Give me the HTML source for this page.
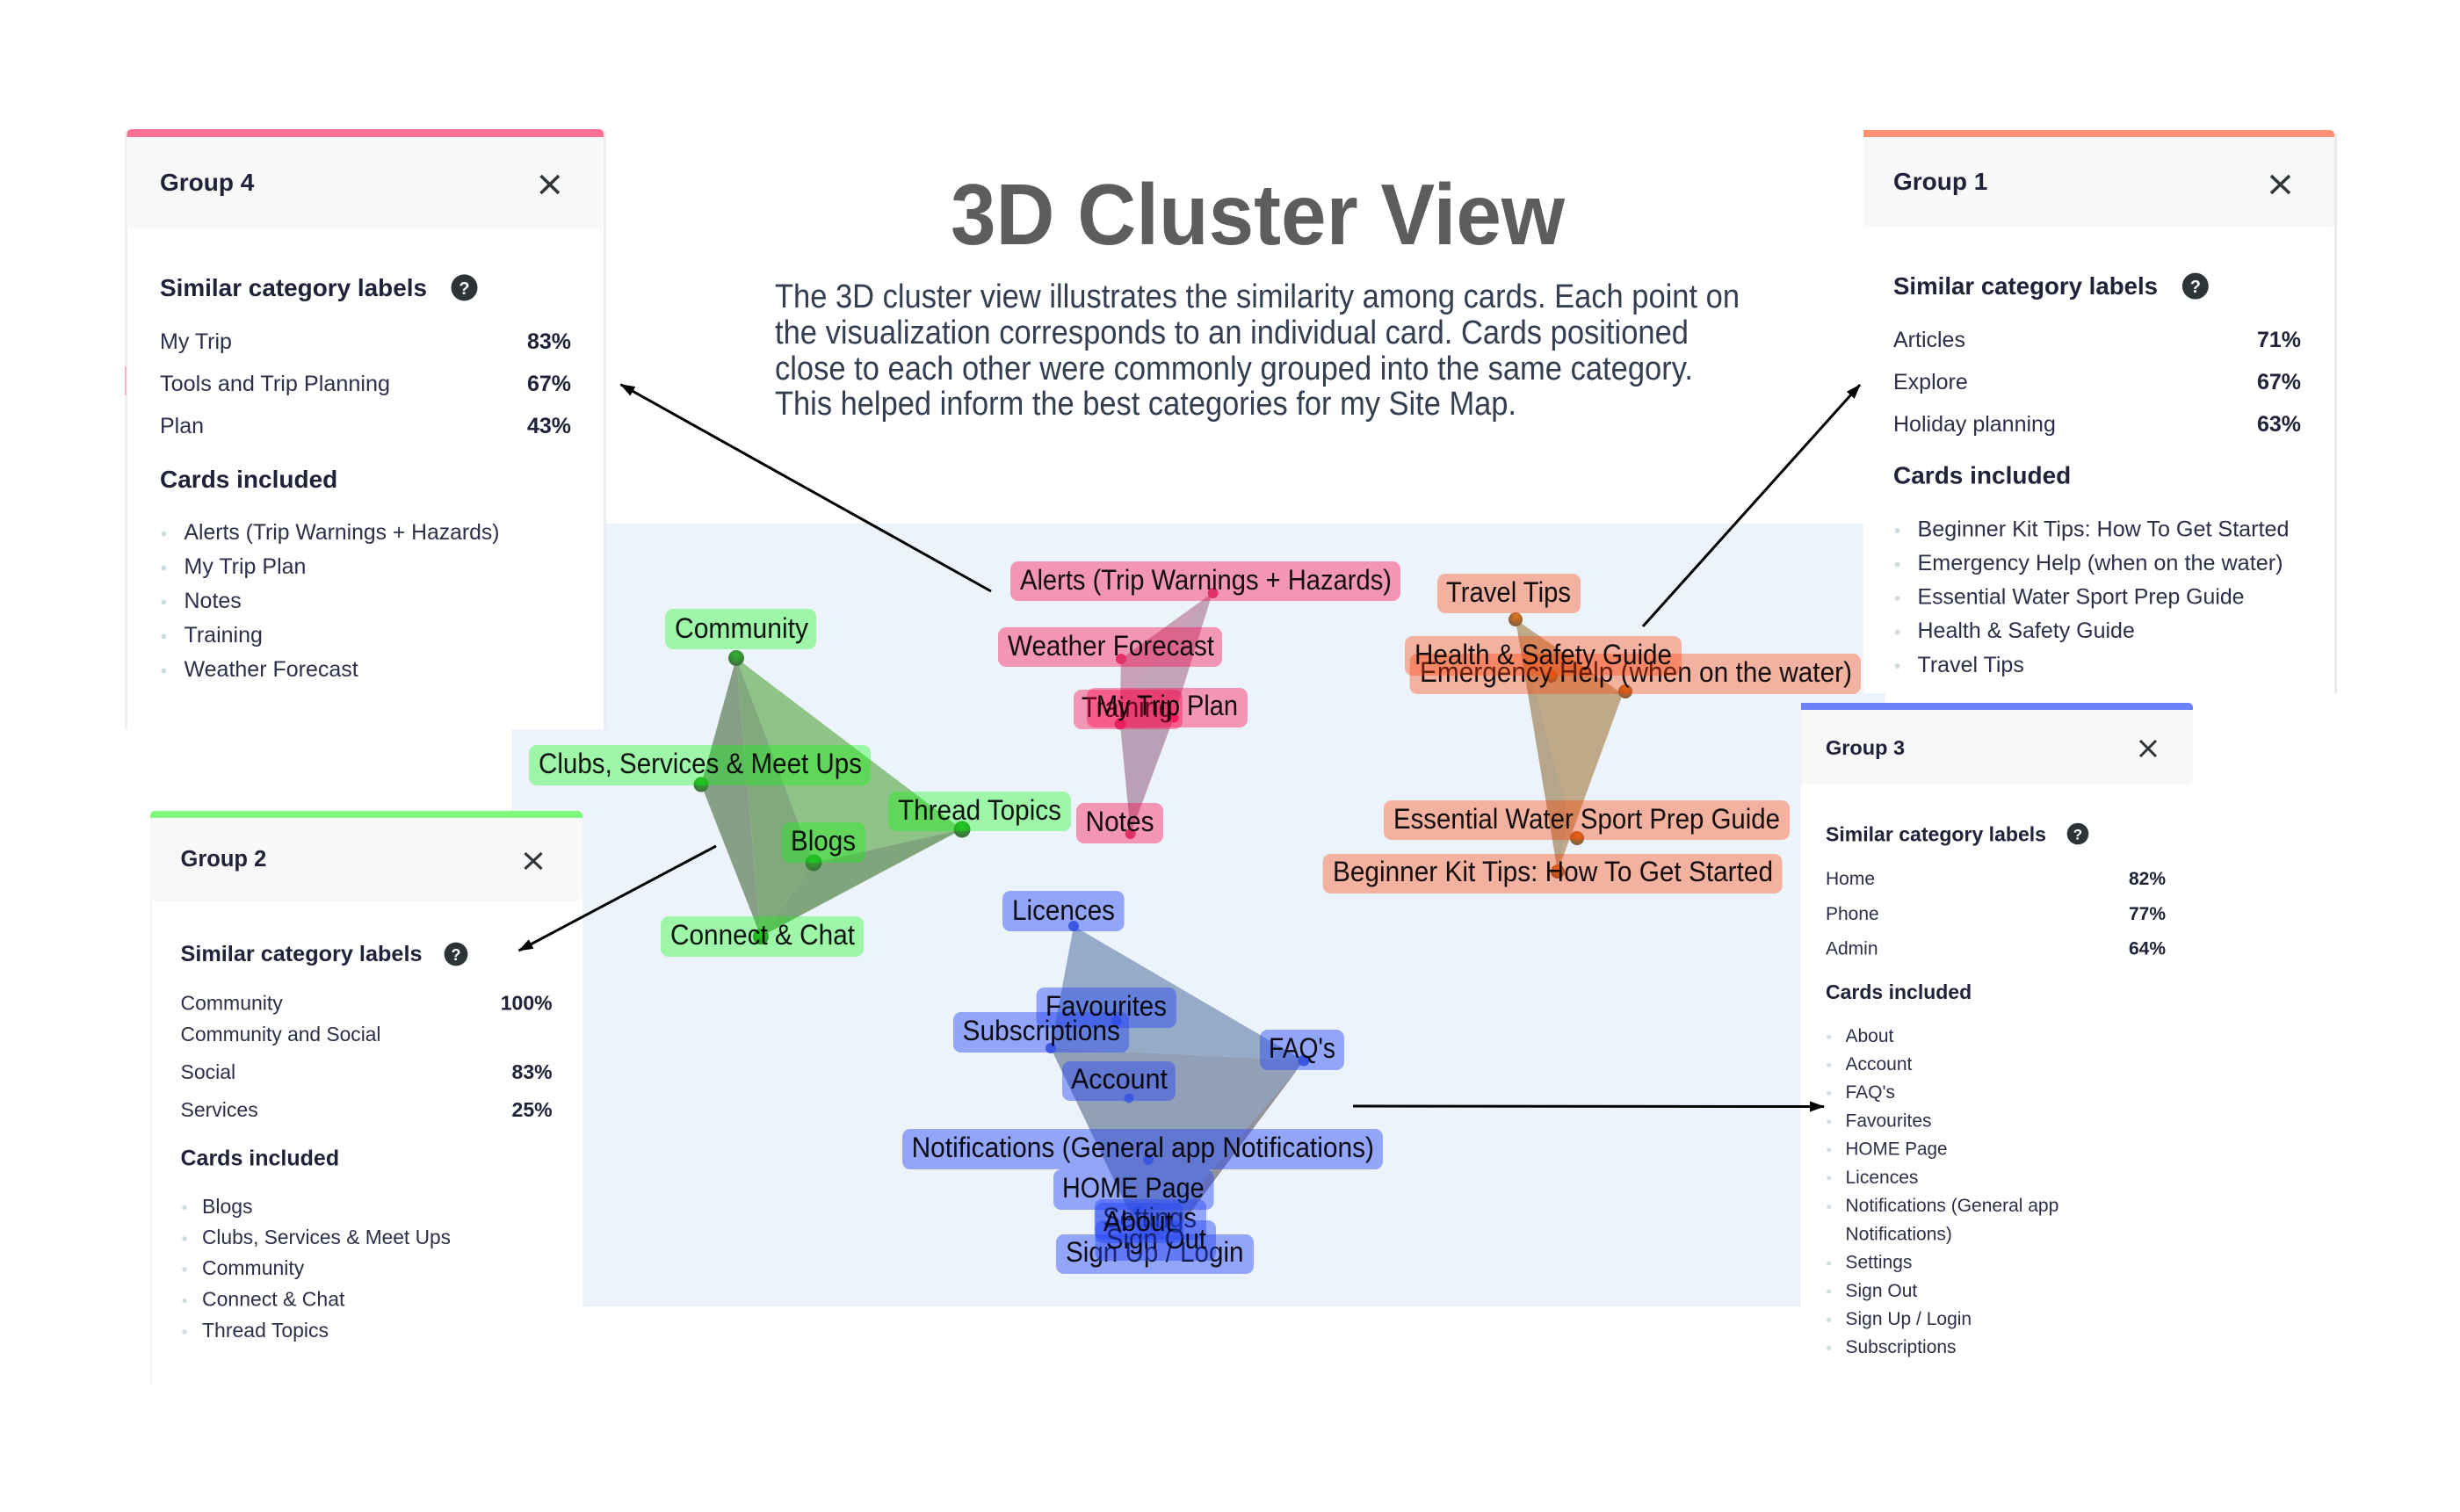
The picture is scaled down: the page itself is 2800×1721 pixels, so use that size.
<!DOCTYPE html>
<html><head><meta charset="utf-8"><title>3D Cluster View</title>
<style>
html,body{margin:0;padding:0;background:#fff}
svg{display:block}
text{font-family:"Liberation Sans",sans-serif}
.b{font-weight:700;fill:#20223a}
.r{fill:#2c2f48}
.l{font-size:32px;fill:#000;fill-opacity:.92;transform:translateY(1px)}
</style></head><body>
<svg xmlns="http://www.w3.org/2000/svg" width="2800" height="1721" viewBox="0 0 2800 1721">
<defs>
<radialGradient id="gg" cx=".5" cy=".3" r=".75"><stop offset="0" stop-color="#2fb52f"/><stop offset="1" stop-color="#3d6a3d"/></radialGradient>
<radialGradient id="og" cx=".55" cy=".3" r=".75"><stop offset="0" stop-color="#e0761c"/><stop offset="1" stop-color="#7a5a40"/></radialGradient>
<marker id="a" markerWidth="18" markerHeight="14" refX="16" refY="6" orient="auto" markerUnits="userSpaceOnUse"><path d="M0 0L17 6L0 12Z" fill="#000"/></marker>
</defs>
<rect width="2800" height="1721" fill="#fff"/>
<polygon points="688,596 2121,596 2121,789 2146,789 2146,800 2050,800 2050,1487 663,1487 663,923 582,923 582,830 688,830" fill="#ecf3fb"/>

<!-- Title -->
<text x="1082" y="278" font-size="98" font-weight="700" fill="#5d5d5d" textLength="699" lengthAdjust="spacingAndGlyphs">3D Cluster View</text>
<g font-size="38" fill="#333e50">
<text x="882" y="350" textLength="1098" lengthAdjust="spacingAndGlyphs">The 3D cluster view illustrates the similarity among cards. Each point on</text>
<text x="882" y="391" textLength="1040" lengthAdjust="spacingAndGlyphs">the visualization corresponds to an individual card. Cards positioned</text>
<text x="882" y="432" textLength="1045" lengthAdjust="spacingAndGlyphs">close to each other were commonly grouped into the same category.</text>
<text x="882" y="472" textLength="844" lengthAdjust="spacingAndGlyphs">This helped inform the best categories for my Site Map.</text>
</g>

<!-- Green cluster -->
<polygon points="838,749 798,893 866,1066" fill="#879f87"/>
<polygon points="838,749 926,982 866,1066" fill="#80a97c"/>
<polygon points="838,749 1095,944 926,982" fill="#90c388"/>
<polygon points="926,982 1095,944 866,1066" fill="#80a57c"/>
<g fill="url(#gg)">
<circle cx="838" cy="749" r="9"/><circle cx="798" cy="893" r="8.5"/><circle cx="926" cy="982" r="9.5"/><circle cx="1095" cy="944" r="9.5"/><circle cx="866" cy="1066" r="9"/>
</g>
<g>
<g fill="#00ff00" fill-opacity=".33">
<rect x="757" y="693" width="172" height="46" rx="9"/>
<rect x="602" y="848" width="389" height="46" rx="9"/>
<rect x="1011" y="901" width="208" height="45" rx="9"/>
<rect x="890" y="936" width="95" height="46" rx="9"/>
<rect x="752" y="1043" width="231" height="46" rx="9"/>
</g>
<text class="l" x="768" y="725" textLength="152" lengthAdjust="spacingAndGlyphs">Community</text>
<text class="l" x="613" y="879" textLength="368" lengthAdjust="spacingAndGlyphs">Clubs, Services &amp; Meet Ups</text>
<text class="l" x="1022" y="932" textLength="186" lengthAdjust="spacingAndGlyphs">Thread Topics</text>
<text class="l" x="900" y="967" textLength="74" lengthAdjust="spacingAndGlyphs">Blogs</text>
<text class="l" x="763" y="1074" textLength="210" lengthAdjust="spacingAndGlyphs">Connect &amp; Chat</text>
</g>

<!-- Pink cluster -->
<polygon points="1380,675 1276,750 1275,824 1287,949 1336,817" fill="#c2a3ba"/>
<polygon points="1380,675 1276,750 1275,800" fill="#c9a0b8"/>
<polygon points="1275,824 1287,949 1330,830" fill="#baa0b6"/>
<g fill="#cf4f7f">
<circle cx="1380.7" cy="675" r="6"/><circle cx="1276" cy="750" r="6"/><circle cx="1275" cy="824" r="6.5"/><circle cx="1336" cy="817" r="5.5"/><circle cx="1286.7" cy="949" r="6"/>
</g>
<rect x="1150" y="639" width="444" height="45" rx="9" fill="#ff0046" fill-opacity=".38"/>
<text class="l" x="1161" y="670" textLength="423" lengthAdjust="spacingAndGlyphs">Alerts (Trip Warnings + Hazards)</text>
<rect x="1136" y="714" width="255" height="45" rx="9" fill="#ff0046" fill-opacity=".38"/>
<text class="l" x="1147" y="745" textLength="235" lengthAdjust="spacingAndGlyphs">Weather Forecast</text>
<rect x="1222" y="785" width="124" height="45" rx="9" fill="#ff0046" fill-opacity=".38"/>
<text class="l" x="1231" y="815" textLength="104" lengthAdjust="spacingAndGlyphs">Training</text>
<rect x="1237" y="783" width="183" height="45" rx="9" fill="#ff0046" fill-opacity=".38"/>
<text class="l" x="1248" y="813" textLength="161" lengthAdjust="spacingAndGlyphs">My Trip Plan</text>
<rect x="1225" y="914" width="99" height="46" rx="9" fill="#ff0046" fill-opacity=".38"/>
<text class="l" x="1235.5" y="945" textLength="78" lengthAdjust="spacingAndGlyphs">Notes</text>

<!-- Orange cluster -->
<polygon points="1725,705 1847,790 1773,992" fill="#c0a988"/>
<polygon points="1725,705 1785,930 1773,992" fill="#b5a58a"/>
<g fill="url(#og)">
<circle cx="1725" cy="705" r="8"/><circle cx="1766" cy="770" r="7"/><circle cx="1850" cy="787" r="8"/><circle cx="1795" cy="954" r="8"/><circle cx="1773" cy="992" r="8"/>
</g>
<rect x="1636" y="653" width="163" height="45" rx="9" fill="#ff3c00" fill-opacity=".36"/>
<text class="l" x="1646" y="684" textLength="142" lengthAdjust="spacingAndGlyphs">Travel Tips</text>
<rect x="1604.5" y="744" width="513.5" height="46" rx="9" fill="#ff3c00" fill-opacity=".36"/>
<text class="l" x="1616" y="775" textLength="492" lengthAdjust="spacingAndGlyphs">Emergency Help (when on the water)</text>
<rect x="1599" y="724" width="315" height="45" rx="9" fill="#ff3c00" fill-opacity=".36"/>
<text class="l" x="1610" y="755" textLength="293" lengthAdjust="spacingAndGlyphs">Health &amp; Safety Guide</text>
<rect x="1575" y="911" width="462" height="45" rx="9" fill="#ff3c00" fill-opacity=".36"/>
<text class="l" x="1586" y="942" textLength="440" lengthAdjust="spacingAndGlyphs">Essential Water Sport Prep Guide</text>
<rect x="1505.6" y="972" width="523" height="45" rx="9" fill="#ff3c00" fill-opacity=".36"/>
<text class="l" x="1517" y="1002" textLength="501" lengthAdjust="spacingAndGlyphs">Beginner Kit Tips: How To Get Started</text>

<!-- Blue cluster -->
<polygon points="1222,1054 1484,1207 1196,1193" fill="#96abc8"/>
<polygon points="1196,1193 1484,1207 1340,1400 1300,1410" fill="#919fb7"/>
<polygon points="1477,1217 1376,1336 1340,1400" fill="#949299"/>
<g fill="#4a68cf">
<circle cx="1222" cy="1054" r="6"/><circle cx="1270.6" cy="1162" r="6"/><circle cx="1196" cy="1193" r="6"/><circle cx="1484" cy="1207" r="6.5"/><circle cx="1285" cy="1250" r="5.5"/><circle cx="1307" cy="1320" r="6"/><circle cx="1294" cy="1378" r="5.5"/>
</g>
<g fill="#2846f5" fill-opacity=".45">
<rect x="1141" y="1014" width="138.6" height="46" rx="9"/>
<rect x="1434" y="1172" width="96" height="46" rx="9"/>
<rect x="1209" y="1208" width="129" height="45" rx="9"/>
<rect x="1085" y="1152" width="200" height="46" rx="9"/>
<rect x="1179.6" y="1124" width="159.4" height="46" rx="9"/>
<rect x="1027" y="1285" width="547" height="46" rx="9"/>
<rect x="1199" y="1331" width="182.6" height="46" rx="9"/>
</g>
<text class="l" x="1152" y="1046" textLength="117" lengthAdjust="spacingAndGlyphs">Licences</text>
<text class="l" x="1444" y="1203" textLength="76" lengthAdjust="spacingAndGlyphs">FAQ's</text>
<text class="l" x="1219" y="1238" textLength="110" lengthAdjust="spacingAndGlyphs">Account</text>
<text class="l" x="1190" y="1155" textLength="138" lengthAdjust="spacingAndGlyphs">Favourites</text>
<text class="l" x="1095.5" y="1183" textLength="179.5" lengthAdjust="spacingAndGlyphs">Subscriptions</text>
<text class="l" x="1037.6" y="1316" textLength="526.4" lengthAdjust="spacingAndGlyphs">Notifications (General app Notifications)</text>
<text class="l" x="1209" y="1362" textLength="161.6" lengthAdjust="spacingAndGlyphs">HOME Page</text>
<rect x="1202" y="1405" width="225" height="45" rx="9" fill="#2846f5" fill-opacity=".45"/>
<text class="l" x="1213" y="1435" textLength="202.5" lengthAdjust="spacingAndGlyphs">Sign Up / Login</text>
<rect x="1245.7" y="1365" width="127.3" height="46" rx="9" fill="#2846f5" fill-opacity=".45"/>
<text class="l" x="1255" y="1396" textLength="107" lengthAdjust="spacingAndGlyphs">Settings</text>
<rect x="1246.5" y="1389" width="137.5" height="46" rx="9" fill="#2846f5" fill-opacity=".45"/>
<text class="l" x="1259" y="1420" textLength="114" lengthAdjust="spacingAndGlyphs">Sign Out</text>
<rect x="1246.5" y="1369" width="100.5" height="46" rx="9" fill="#2846f5" fill-opacity=".45"/>
<text class="l" x="1256" y="1400" textLength="79" lengthAdjust="spacingAndGlyphs">About</text>

<!-- Group 4 -->
<rect x="142" y="145" width="548" height="451" fill="#fff"/>
<rect x="142" y="145" width="548" height="685" rx="5" fill="#fff"/>
<rect x="142" y="150" width="3" height="680" fill="#eef0f1"/>
<rect x="687" y="150" width="3" height="680" fill="#eceef0"/>
<rect x="142" y="417" width="2" height="33" fill="#f7b5c8"/>
<path d="M144.5 156V152a5 5 0 0 1 5-5H682a5 5 0 0 1 5 5v4z" fill="#ff6f96"/>
<path d="M144.5 156H687V254a6 6 0 0 1-6 6H150.5a6 6 0 0 1-6-6z" fill="#f8f8f8"/>
<text class="b" x="182" y="217" font-size="28">Group 4</text>
<path d="M615.5 200L636 220M636 200L615.5 220" stroke="#2e3438" stroke-width="3.5" fill="none"/>
<text class="b" x="182" y="337" font-size="28" textLength="304" lengthAdjust="spacingAndGlyphs">Similar category labels</text>
<circle cx="528.5" cy="327.4" r="15" fill="#2d3438"/><text x="528.5" y="335" font-size="20" font-weight="700" fill="#fff" text-anchor="middle">?</text>
<g font-size="25" class="r">
<text x="182" y="397">My Trip</text><text x="182" y="445" textLength="262" lengthAdjust="spacingAndGlyphs">Tools and Trip Planning</text><text x="182" y="493">Plan</text>
<text x="209.5" y="614" textLength="359" lengthAdjust="spacingAndGlyphs">Alerts (Trip Warnings + Hazards)</text><text x="209.5" y="653">My Trip Plan</text><text x="209.5" y="692">Notes</text><text x="209.5" y="731">Training</text><text x="209.5" y="770">Weather Forecast</text>
</g>
<g font-size="25" class="b" text-anchor="end"><text x="650" y="397">83%</text><text x="650" y="445">67%</text><text x="650" y="493">43%</text></g>
<text class="b" x="182" y="555" font-size="28">Cards included</text>
<g fill="#cfdde3"><circle cx="186.4" cy="607.5" r="3"/><circle cx="186.4" cy="646.5" r="3"/><circle cx="186.4" cy="685.5" r="3"/><circle cx="186.4" cy="724.5" r="3"/><circle cx="186.4" cy="763.5" r="3"/></g>

<!-- Group 1 -->
<rect x="2121" y="148" width="539" height="641" fill="#fff"/>
<rect x="2657" y="152" width="3" height="637" fill="#e8eaed"/>
<path d="M2121 156V148H2652a5 5 0 0 1 5 5v3z" fill="#ff9272"/>
<path d="M2121 156H2657V253a6 6 0 0 1-6 6H2121z" fill="#f8f8f8"/>
<text class="b" x="2155" y="216" font-size="28">Group 1</text>
<path d="M2585 200L2606 220M2606 200L2585 220" stroke="#2e3438" stroke-width="3.5" fill="none"/>
<text class="b" x="2155" y="335" font-size="28" textLength="301" lengthAdjust="spacingAndGlyphs">Similar category labels</text>
<circle cx="2498.8" cy="325.6" r="15" fill="#2d3438"/><text x="2498.8" y="333" font-size="20" font-weight="700" fill="#fff" text-anchor="middle">?</text>
<g font-size="25" class="r">
<text x="2155" y="395">Articles</text><text x="2155" y="443">Explore</text><text x="2155" y="491">Holiday planning</text>
<text x="2182.5" y="610.5" textLength="423" lengthAdjust="spacingAndGlyphs">Beginner Kit Tips: How To Get Started</text>
<text x="2182.5" y="649" textLength="416" lengthAdjust="spacingAndGlyphs">Emergency Help (when on the water)</text>
<text x="2182.5" y="687.7" textLength="372" lengthAdjust="spacingAndGlyphs">Essential Water Sport Prep Guide</text>
<text x="2182.5" y="726">Health &amp; Safety Guide</text>
<text x="2182.5" y="765">Travel Tips</text>
</g>
<g font-size="25" class="b" text-anchor="end"><text x="2619" y="395">71%</text><text x="2619" y="443">67%</text><text x="2619" y="491">63%</text></g>
<text class="b" x="2155" y="550.6" font-size="28">Cards included</text>
<g fill="#cfdde3"><circle cx="2159.6" cy="604" r="3"/><circle cx="2159.6" cy="642.5" r="3"/><circle cx="2159.6" cy="681" r="3"/><circle cx="2159.6" cy="719.5" r="3"/><circle cx="2159.6" cy="758" r="3"/></g>

<!-- Group 2 -->
<rect x="171" y="923" width="492" height="652" fill="#fff"/>
<rect x="171" y="931" width="1.5" height="644" fill="#f1f3f4"/>
<path d="M171 931V928a5 5 0 0 1 5-5H658a5 5 0 0 1 5 5v3z" fill="#7ffa7f"/>
<path d="M171 931H663V1019a6 6 0 0 1-6 6H177a6 6 0 0 1-6-6z" fill="#f8f8f8"/>
<text class="b" x="205.5" y="986" font-size="25.5">Group 2</text>
<path d="M597.5 971L616.5 989M616.5 971L597.5 989" stroke="#2e3438" stroke-width="3.2" fill="none"/>
<text class="b" x="205.5" y="1094" font-size="25" textLength="275" lengthAdjust="spacingAndGlyphs">Similar category labels</text>
<circle cx="519" cy="1086" r="13.4" fill="#2d3438"/><text x="519" y="1093" font-size="18" font-weight="700" fill="#fff" text-anchor="middle">?</text>
<g font-size="23" class="r">
<text x="205.5" y="1149.5">Community</text><text x="205.5" y="1185" textLength="228" lengthAdjust="spacingAndGlyphs">Community and Social</text><text x="205.5" y="1228">Social</text><text x="205.5" y="1271">Services</text>
<text x="230" y="1381">Blogs</text><text x="230" y="1416" textLength="283" lengthAdjust="spacingAndGlyphs">Clubs, Services &amp; Meet Ups</text><text x="230" y="1451">Community</text><text x="230" y="1486.6">Connect &amp; Chat</text><text x="230" y="1522">Thread Topics</text>
</g>
<g font-size="23" class="b" text-anchor="end"><text x="628.6" y="1149.5">100%</text><text x="628.6" y="1228">83%</text><text x="628.6" y="1271">25%</text></g>
<text class="b" x="205.5" y="1326.5" font-size="25">Cards included</text>
<g fill="#cfdde3"><circle cx="210" cy="1374.5" r="2.7"/><circle cx="210" cy="1410" r="2.7"/><circle cx="210" cy="1445" r="2.7"/><circle cx="210" cy="1480.5" r="2.7"/><circle cx="210" cy="1516" r="2.7"/></g>

<!-- Group 3 -->
<rect x="2050" y="800" width="446" height="760" fill="#fff"/>
<path d="M2050 808V800H2491a5 5 0 0 1 5 5v3z" fill="#6a81f8"/>
<path d="M2050 808H2496V887a6 6 0 0 1-6 6H2050z" fill="#f8f8f8"/>
<text class="b" x="2078" y="859" font-size="23.5">Group 3</text>
<path d="M2436 843L2454 861M2454 843L2436 861" stroke="#2e3438" stroke-width="3" fill="none"/>
<text class="b" x="2078" y="957.5" font-size="23" textLength="251" lengthAdjust="spacingAndGlyphs">Similar category labels</text>
<circle cx="2365" cy="949" r="12.3" fill="#2d3438"/><text x="2365" y="955.5" font-size="17" font-weight="700" fill="#fff" text-anchor="middle">?</text>
<g font-size="21" class="r">
<text x="2078" y="1007">Home</text><text x="2078" y="1047">Phone</text><text x="2078" y="1086.6">Admin</text>
<text x="2100.5" y="1186">About</text><text x="2100.5" y="1218">Account</text><text x="2100.5" y="1250">FAQ's</text><text x="2100.5" y="1282.5">Favourites</text><text x="2100.5" y="1314.7" textLength="116" lengthAdjust="spacingAndGlyphs">HOME Page</text><text x="2100.5" y="1347">Licences</text><text x="2100.5" y="1379">Notifications (General app</text><text x="2100.5" y="1411.6">Notifications)</text><text x="2100.5" y="1443.5">Settings</text><text x="2100.5" y="1476">Sign Out</text><text x="2100.5" y="1508">Sign Up / Login</text><text x="2100.5" y="1540">Subscriptions</text>
</g>
<g font-size="21" class="b" text-anchor="end"><text x="2465" y="1007">82%</text><text x="2465" y="1047">77%</text><text x="2465" y="1086.6">64%</text></g>
<text class="b" x="2078" y="1137" font-size="23">Cards included</text>
<g fill="#cfdde3"><circle cx="2081.7" cy="1180.5" r="2.5"/><circle cx="2081.7" cy="1212.5" r="2.5"/><circle cx="2081.7" cy="1244.5" r="2.5"/><circle cx="2081.7" cy="1277" r="2.5"/><circle cx="2081.7" cy="1309" r="2.5"/><circle cx="2081.7" cy="1341" r="2.5"/><circle cx="2081.7" cy="1373.5" r="2.5"/><circle cx="2081.7" cy="1438" r="2.5"/><circle cx="2081.7" cy="1470" r="2.5"/><circle cx="2081.7" cy="1502.5" r="2.5"/><circle cx="2081.7" cy="1534.5" r="2.5"/></g>

<!-- Arrows -->
<g stroke="#000" stroke-width="3" fill="none" marker-end="url(#a)">
<line x1="1128" y1="673" x2="706.4" y2="437.6"/>
<line x1="815" y1="963" x2="590.6" y2="1082"/>
<line x1="1870" y1="713" x2="2117" y2="438"/>
<line x1="1540" y1="1259" x2="2076" y2="1259.5"/>
</g>
</svg>
</body></html>
